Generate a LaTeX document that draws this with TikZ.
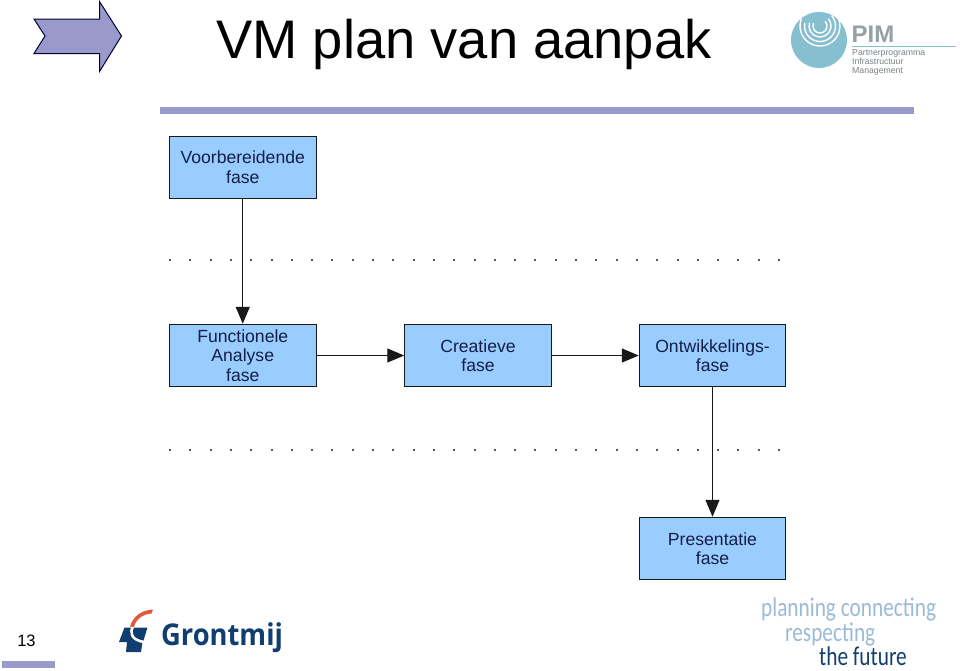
\documentclass[tikz,border=0pt]{standalone}
\usepackage{fontspec}
\setmainfont{Liberation Sans}
\newfontfamily\slogan{Carlito}
\newfontfamily\brand{Open Sans}
\usetikzlibrary{arrows.meta}
\usetikzlibrary{positioning}
\definecolor{barblue}{RGB}{153,153,204}
\definecolor{boxblue}{RGB}{153,204,255}
\definecolor{boxtext}{RGB}{20,30,70}
\definecolor{pimblue}{RGB}{134,191,208}
\definecolor{pimgray}{RGB}{150,160,165}
\definecolor{sloganlight}{RGB}{155,186,215}
\definecolor{navy}{RGB}{16,62,112}
\definecolor{logored}{RGB}{228,88,58}
\tikzset{
  fase/.style={draw=black!90,line width=1pt,fill=boxblue,text=boxtext,minimum width=146.5pt,
    minimum height=62.5pt,inner sep=0pt,align=center,font=\fontsize{17.6}{19.5}\selectfont},
  flow/.style={draw=black!90,line width=1.3pt,-{Triangle[length=17pt,width=14pt]}},
  scheiding/.style={draw=black!65,line width=2pt,dash pattern=on 2pt off 18.3pt},
  bar/.style={fill=barblue,draw=none},
  sloganline/.style={font=\slogan\fontsize{27}{27}\selectfont,inner sep=0pt,anchor=base west,xscale=0.79},
}
\begin{document}
\begin{tikzpicture}[x=1pt,y=-1pt]
  \useasboundingbox (0,0) rectangle (960,670);
  % kop
  \draw[draw=black!80!blue,line width=1pt,fill=barblue] (34,19) -- (99.5,19) -- (99.5,1.5) -- (121.5,36)
    -- (99.5,71.5) -- (99.5,53.5) -- (34,53.5) -- (45,36) -- cycle;
  \node[font=\fontsize{54.3}{54.3}\selectfont,inner sep=0pt] (titel) at (464,44) {VM plan van aanpak};
  \fill[bar] (160,107) rectangle (914,114);
  \fill[bar] (2,661) rectangle (55,668);
  \node[font=\fontsize{16.5}{16.5}\selectfont,inner sep=0pt] (pagina) at (26.5,641) {13};
  % fases
  \node[fase] (voorbereiding) at (242.75,167.25) {Voorbereidende\\fase};
  \node[fase] (functioneel) at (242.75,355.5) {Functionele\\Analyse\\fase};
  \node[fase] (creatief) at (478,355.5) {Creatieve\\fase};
  \node[fase] (ontwikkeling) at (712.5,355.5) {Ontwikkelings-\\fase};
  \node[fase] (presentatie) at (712.5,548.5) {Presentatie\\fase};
  \draw[flow] (voorbereiding) -- (functioneel);
  \draw[flow] (functioneel) -- (creatief);
  \draw[flow] (creatief) -- (ontwikkeling);
  \draw[flow] (ontwikkeling) -- (presentatie);
  \foreach \y in {260,450} {
    \draw[scheiding] (169,\y) -- (782,\y);
  }
  % PIM logo
  \fill[pimblue] (819,40) circle (28);
  \foreach \r/\s in {7/200,11/195,15.5/190,20/200} {
    \draw[white,line width=1.4pt,line cap=round] (820,26) ++(\s:\r) arc (\s:-40:\r);
  }
  \node[font=\bfseries\fontsize{24}{24}\selectfont,text=pimgray,inner sep=0pt,anchor=west] (pim) at (851.5,34) {PIM};
  \draw[pimblue,line width=1pt] (852,46) -- (956,46);
  \node[font=\fontsize{8.7}{8.8}\selectfont,text=pimgray!80!black,inner sep=0pt,anchor=north west,align=left] (partner) at (852,49.5)
    {Partnerprogramma\\Infrastructuur\\Management};
  % Grontmij logo
  \fill[navy] (119,642) -- (124.5,627.5) -- (147.5,627.5) -- (143,642) -- (142.5,642) -- (141,652) -- (126,652) -- (127,642) -- cycle;
  \draw[white,line width=2.6pt] (133.5,626) .. controls (129,632) and (131,640) .. (144,642);
  \fill[logored] (153,609.5) -- (151.5,613.5) .. controls (143,614) and (136,619) .. (134,627) -- (130,626.5)
    .. controls (133,616) and (142,610) .. (153,609.5) -- cycle;
  \node[font=\brand\bfseries\fontsize{30}{30}\selectfont,text=navy,inner sep=0pt,anchor=base west,xscale=0.91] (grontmij) at (161,645) {Grontmij};
  % slogan
  \node[sloganline,text=sloganlight] (planning) at (761,616) {planning connecting};
  \node[sloganline,text=sloganlight] (respecting) at (785,641) {respecting};
  \node[sloganline,text=navy] (toekomst) at (819,665) {the future};
\end{tikzpicture}
\end{document}
